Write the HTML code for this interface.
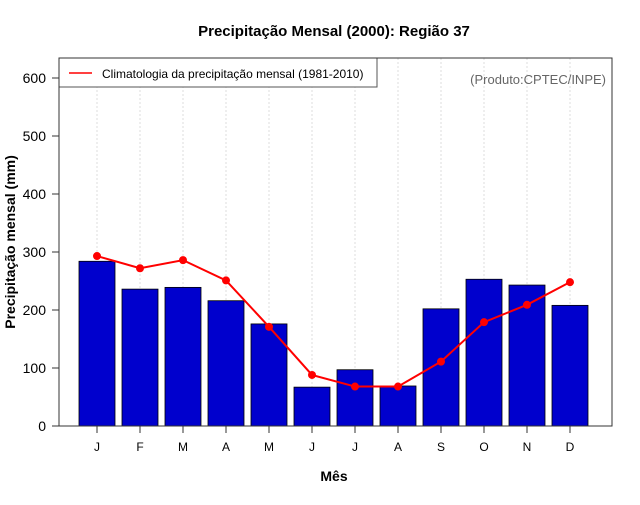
<!DOCTYPE html>
<html><head><meta charset="utf-8"><style>
body{margin:0;background:#fff;font-family:"Liberation Sans",sans-serif}
svg text{font-family:"Liberation Sans",sans-serif}
</style></head><body>
<svg width="640" height="500" viewBox="0 0 640 500">
<g id="grid"></g><g id="bars"></g><g id="line"></g><g id="axes"></g>
<text x="334" y="36" text-anchor="middle" font-size="15" font-weight="bold">Precipitação Mensal (2000): Região 37</text>
<text x="334" y="481" text-anchor="middle" font-size="14" font-weight="bold">Mês</text>
<text transform="translate(15,242) rotate(-90)" text-anchor="middle" font-size="14" font-weight="bold">Precipitação mensal (mm)</text>
<text x="606" y="84" text-anchor="end" font-size="13" fill="#666">(Produto:CPTEC/INPE)</text>
<g>
<rect x="59" y="58" width="318" height="29" fill="#fff" stroke="#555"/>
<line x1="69" y1="73" x2="92" y2="73" stroke="red" stroke-width="1.5"/>
<text x="102" y="78" font-size="12">Climatologia da precipitação mensal (1981-2010)</text>
</g>
<rect x="59" y="58" width="553" height="368" fill="none" stroke="#333"/>
</svg>
<script>
const months=["J","F","M","A","M","J","J","A","S","O","N","D"];
const precip2000=[284,236,239,216,176,67,97,69,202,253,243,208];
const climatology=[293,272,286,251,171,88,68,68,111,179,209,248];
const yTicks=[0,100,200,300,400,500,600];
const NS="http://www.w3.org/2000/svg";
const xPos=i=>97+i*43;
const yPos=v=>426-v*0.58;
function mk(tag,attrs,parent,txt){const e=document.createElementNS(NS,tag);for(const k in attrs)e.setAttribute(k,attrs[k]);if(txt!==undefined)e.textContent=txt;document.getElementById(parent).appendChild(e);return e;}
months.forEach((m,i)=>{
 const g=mk('line',{x1:xPos(i),x2:xPos(i),y1:58,y2:426,stroke:'#ddd','stroke-dasharray':'2,2'},'grid');
 
 
 const b=mk('rect',{x:xPos(i)-18,y:yPos(precip2000[i]),width:36,height:426-yPos(precip2000[i]),fill:'#0000cd',stroke:'#000','stroke-width':0.8},'bars');
 
 
 const t=mk('line',{x1:xPos(i),x2:xPos(i),y1:426,y2:433,stroke:'#333'},'axes');
 
 
 const l=mk('text',{x:xPos(i),y:451,'text-anchor':'middle','font-size':12},'axes',m);
 
 
});
const pl=mk('polyline',{points:climatology.map((v,i)=>xPos(i)+','+yPos(v)).join(' '),fill:'none',stroke:'red','stroke-width':2},'line');


climatology.forEach((v,i)=>{
 const c=mk('circle',{cx:xPos(i),cy:yPos(v),r:4,fill:'red'},'line');
 
 
});
yTicks.forEach(v=>{
 const t=mk('line',{x1:52,x2:59,y1:yPos(v),y2:yPos(v),stroke:'#333'},'axes');
 
 
 const l=mk('text',{x:46,y:yPos(v)+5,'text-anchor':'end','font-size':14},'axes',v);
 
 
});
</script>
</body></html>
